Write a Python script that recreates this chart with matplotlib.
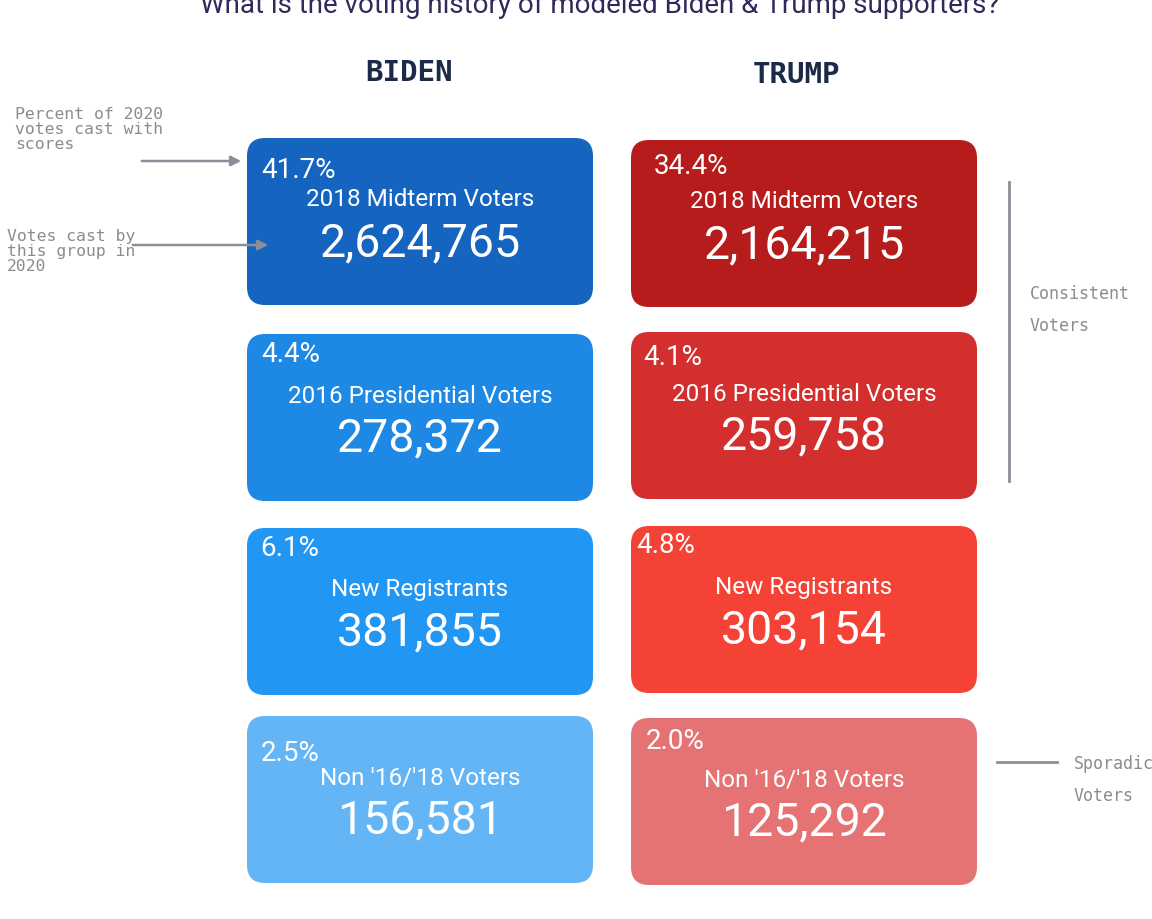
import matplotlib.pyplot as plt
from matplotlib.patches import FancyBboxPatch

# Data
groups = ["2018 Midterm Voters", "2016 Presidential Voters", "New Registrants", "Non '16/'18 Voters"]
biden_pct = [41.7, 4.4, 6.1, 2.5]
biden_votes = [2624765, 278372, 381855, 156581]
trump_pct = [34.4, 4.1, 4.8, 2.0]
trump_votes = [2164215, 259758, 303154, 125292]
biden_colors = ['#1565C0', '#1E88E5', '#2196F3', '#64B5F6']
trump_colors = ['#B71C1C', '#D32F2F', '#F44336', '#E57373']

# Layout (pixel space)
W, H = 1152, 920
box_w, box_h = 346, 167
col_x = {'BIDEN': 247, 'TRUMP': 631}
head_x = {'BIDEN': 409, 'TRUMP': 797}
head_y = {'BIDEN': 73, 'TRUMP': 75}
row_y = {'BIDEN': [139, 335, 529, 717], 'TRUMP': [141, 333, 527, 719]}
# offsets inside each box: percent, label, number
pct_dx = {'BIDEN': [14, 14, 13, 14], 'TRUMP': [23, 12, 5, 15]}
pct_dy = {'BIDEN': [31, 20, 20, 37], 'TRUMP': [25, 25, 19, 23]}
lab_dy = {'BIDEN': [61, 62, 61, 61], 'TRUMP': [61, 62, 61, 61]}
num_dy = {'BIDEN': [104, 103, 103, 103], 'TRUMP': [104, 103, 103, 103]}

fig = plt.figure(figsize=(W / 100, H / 100), dpi=100)
ax = fig.add_axes([0, 0, 1, 1])
ax.set_xlim(0, W)
ax.set_ylim(H, 0)
ax.axis('off')

sans = ['Roboto', 'DejaVu Sans']
mono = 'DejaVu Sans Mono'
gray = '#8a8f99'
note = '#8c8c8c'

ax.text(600, 13, 'What is the voting history of modeled Biden & Trump supporters?',
        ha='center', va='baseline', fontsize=20, family=sans, color='#2e2b5a')

series = {
    'BIDEN': (biden_pct, biden_votes, biden_colors),
    'TRUMP': (trump_pct, trump_votes, trump_colors),
}

for name, (pcts, votes, colors) in series.items():
    x0 = col_x[name]
    ax.text(head_x[name], head_y[name], name, ha='center', va='center',
            fontsize=21, family=mono, fontweight='bold', color='#1b2a47')
    for i, (p, v, c) in enumerate(zip(pcts, votes, colors)):
        y0 = row_y[name][i]
        ax.add_patch(FancyBboxPatch((x0, y0), box_w, box_h,
                                    boxstyle='round,pad=0,rounding_size=18',
                                    facecolor=c, edgecolor='none'))
        ax.text(x0 + pct_dx[name][i], y0 + pct_dy[name][i], f'{p:.1f}%', ha='left', va='center',
                fontsize=20, family=sans, color='white')
        ax.text(x0 + box_w / 2, y0 + lab_dy[name][i], groups[i], ha='center', va='center',
                fontsize=17.5, family=sans, color='white')
        ax.text(x0 + box_w / 2, y0 + num_dy[name][i], f'{v:,}', ha='center', va='center',
                fontsize=33.5, family=sans, color='white')

# Left annotations
ax.text(15, 107, 'Percent of 2020\nvotes cast with\nscores', ha='left', va='top',
        fontsize=11.8, family=mono, color=note, linespacing=1.0)
ax.annotate('', xy=(244, 162), xytext=(139, 162),
            arrowprops=dict(arrowstyle='-|>', color=gray, lw=1.8, mutation_scale=15))
ax.text(7, 229, 'Votes cast by\nthis group in\n2020', ha='left', va='top',
        fontsize=11.8, family=mono, color=note, linespacing=1.0)
ax.annotate('', xy=(271, 246), xytext=(130, 246),
            arrowprops=dict(arrowstyle='-|>', color=gray, lw=1.8, mutation_scale=15))

# Right annotations
ax.plot([1009, 1009], [183, 482], color=gray, lw=2)
ax.text(1030, 294, 'Consistent', ha='left', va='center', fontsize=12, family=mono, color=note)
ax.text(1030, 326, 'Voters', ha='left', va='center', fontsize=12, family=mono, color=note)
ax.plot([997, 1057], [763, 763], color=gray, lw=2)
ax.text(1074, 764, 'Sporadic', ha='left', va='center', fontsize=12, family=mono, color=note)
ax.text(1074, 796, 'Voters', ha='left', va='center', fontsize=12, family=mono, color=note)

fig.savefig('out.png', dpi=100)
